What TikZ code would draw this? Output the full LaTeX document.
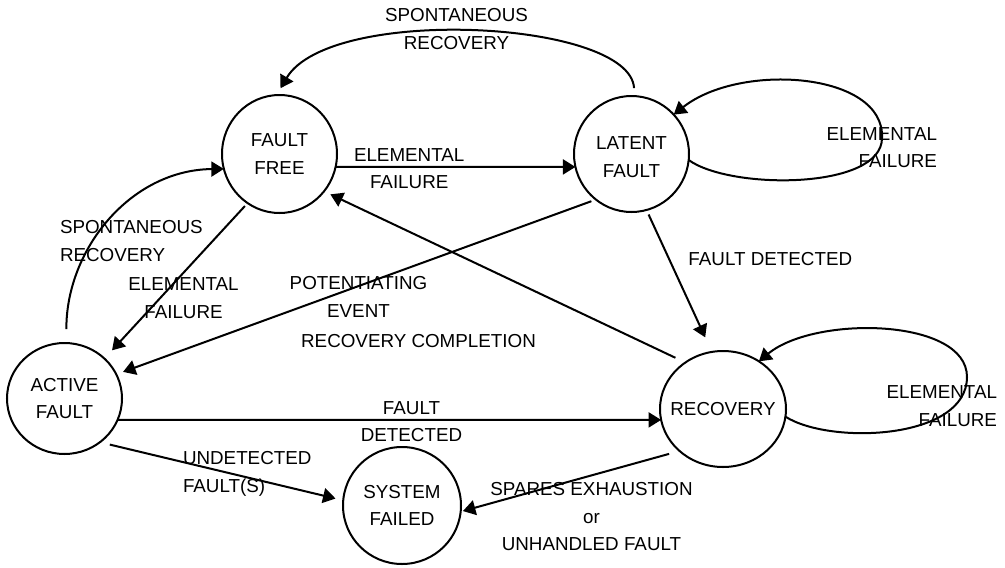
\documentclass[tikz,border=0pt]{standalone}
\usepackage{fontspec}
\setmainfont{Liberation Sans}
\usetikzlibrary{arrows.meta,shapes.geometric}
\begin{document}
\begin{tikzpicture}[x=1pt,y=-1pt,
  txt/.style={font=\fontsize{18.8}{27.5}\selectfont, inner sep=0pt, outer sep=0pt},
  state/.style={ellipse, draw, line width=2pt, inner sep=0pt, outer sep=0pt},
  statetext/.style={txt, align=center},
  lbl/.style={txt, align=center},
  conn/.style={line width=2pt, -{Triangle[length=12.5pt,width=15pt]}},
]
\useasboundingbox (0,0) rectangle (1005,568);

% states
\node[state, minimum width=115pt, minimum height=118pt, label={[statetext]center:FAULT\\FREE}] (ff) at (279.5,154) {};
\node[state, minimum width=115pt, minimum height=116pt, label={[statetext,yshift=-3pt]center:LATENT\\FAULT}] (lf) at (631.5,154) {};
\node[state, minimum width=115pt, minimum height=111pt, label={[statetext]center:ACTIVE\\FAULT}] (af) at (64.5,398.5) {};
\node[state, minimum width=126pt, minimum height=116pt, label={[statetext]center:RECOVERY}] (rec) at (723,409) {};
\node[state, minimum width=118pt, minimum height=117pt, label={[statetext]center:SYSTEM\\FAILED}] (sf) at (402,505.5) {};

% connectors
\draw[conn] (ff.-13) -- (lf.193);
\draw[conn, shorten <=8pt, shorten >=8pt] (lf.87) .. controls (630,20) and (330,5) .. (ff.93);
\draw[conn] (lf.-6) .. controls (730,190) and (882,190) .. (882,138) .. controls (885,72) and (740,62) .. (lf.43);
\draw[conn, shorten <=5pt, shorten >=16pt] (lf.-75) -- (rec.101);
\draw[conn, shorten <=11pt, shorten >=7pt] (rec.129.4) -- (ff.-40.6);
\draw[conn, shorten <=4.8pt, shorten >=7.2pt] (lf.232.6) -- (af.25.2);
\draw[conn, shorten <=4pt, shorten >=11.2pt] (ff.237.1) -- (af.45.5);
\draw[conn, shorten <=14pt] (af.88.5) .. controls (66,250) and (130,170) .. (ff.195.5);
\draw[conn] (af.-22.6) -- (rec.190.6);
\draw[conn, shorten <=10.2pt, shorten >=7.9pt] (af.-51.6) -- (sf.175.4);
\draw[conn, shorten <=10.8pt, shorten >=2.3pt] (rec.224.2) -- (sf.-6.7);
\draw[conn] (rec.-7.2) .. controls (830,445) and (967,440) .. (967,377) .. controls (967,318) and (815,315) .. (rec.53.7);

% labels
\node[lbl] (l1) at (456.5,29) {SPONTANEOUS\\RECOVERY};
\node[lbl] (l2) at (409.2,168.5) {ELEMENTAL\\FAILURE};
\node[lbl, align=right, anchor=east] (l3) at (937,147.5) {ELEMENTAL\\FAILURE};
\node[lbl, align=left, anchor=west] (l4) at (60,241) {SPONTANEOUS\\RECOVERY};
\node[lbl] (l5) at (183.5,298) {ELEMENTAL\\FAILURE};
\node[lbl] (l6) at (358.5,296.7) {POTENTIATING\\EVENT};
\node[lbl] (l7) at (418.5,340.7) {RECOVERY COMPLETION};
\node[lbl] (l8) at (770.3,259.3) {FAULT DETECTED};
\node[lbl] (l9) at (411.5,421.7) {FAULT\\DETECTED};
\node[lbl, align=left, anchor=west] (l10) at (183,474) {UNDETECTED\\FAULT(S)};
\node[lbl] (l11) at (591.5,517) {SPARES EXHAUSTION\\or\\UNHANDLED FAULT};
\node[lbl, align=right, anchor=east] (l12) at (997,406) {ELEMENTAL\\FAILURE};
\end{tikzpicture}
\end{document}
